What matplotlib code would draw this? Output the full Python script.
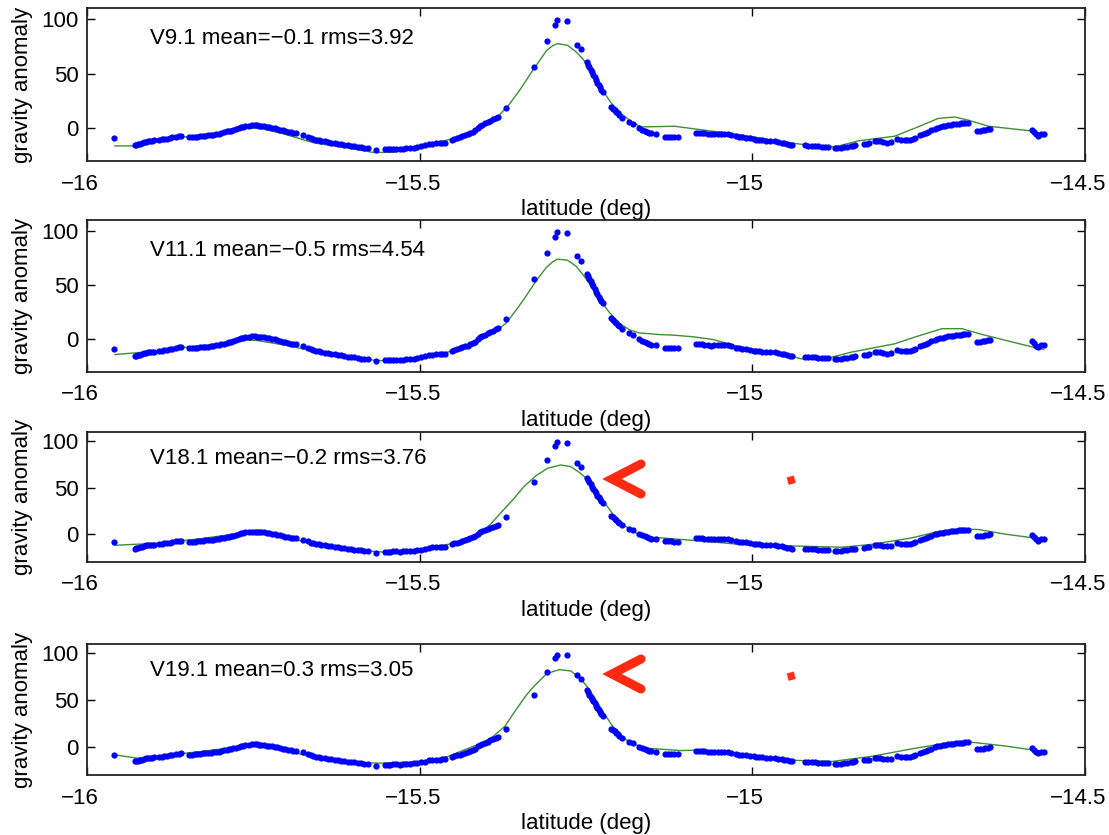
import matplotlib
matplotlib.use("Agg")
import matplotlib.pyplot as plt
from matplotlib.lines import Line2D
from matplotlib.ticker import FuncFormatter
from matplotlib.transforms import ScaledTranslation

plt.rcParams.update({"font.family": ["Liberation Sans", "DejaVu Sans"],
                     "font.size": 16, "axes.linewidth": 1.3})

# ship gravity profile (same track in every panel)
dot_lat = [-15.960,
           -15.928, -15.926, -15.923, -15.921, -15.918, -15.915, -15.912, -15.909,
           -15.906, -15.903, -15.900, -15.892, -15.888, -15.884, -15.880, -15.876,
           -15.872, -15.866, -15.862, -15.858, -15.846, -15.842, -15.838, -15.834,
           -15.830, -15.826, -15.822, -15.818, -15.814, -15.810, -15.806, -15.802,
           -15.798, -15.794, -15.790, -15.787, -15.784, -15.780, -15.776, -15.772,
           -15.768, -15.765, -15.762, -15.757, -15.752, -15.748, -15.744, -15.741,
           -15.738, -15.734, -15.730, -15.726, -15.722, -15.718, -15.714, -15.710,
           -15.706, -15.702, -15.698, -15.694, -15.690, -15.686, -15.676, -15.668,
           -15.664, -15.660, -15.656, -15.652, -15.648, -15.643, -15.638, -15.633,
           -15.628, -15.623, -15.618, -15.613, -15.608, -15.603, -15.598, -15.593,
           -15.588, -15.583, -15.578, -15.566, -15.552, -15.548, -15.544, -15.540,
           -15.535, -15.530, -15.525, -15.520, -15.515, -15.509, -15.504, -15.498,
           -15.492, -15.486, -15.482, -15.476, -15.470, -15.466, -15.462, -15.452,
           -15.448, -15.444, -15.440, -15.436, -15.432, -15.428, -15.424, -15.420,
           -15.417, -15.413, -15.410, -15.406, -15.402, -15.398, -15.394, -15.390,
           -15.386, -15.383, -15.370,
           -15.328, -15.309, -15.296, -15.293, -15.278, -15.263, -15.258, -15.249,
           -15.247, -15.245, -15.243, -15.241, -15.239, -15.237, -15.235, -15.233,
           -15.231, -15.229, -15.227, -15.225, -15.212, -15.210, -15.207, -15.205,
           -15.202, -15.200, -15.196, -15.186, -15.180, -15.170, -15.166, -15.162,
           -15.159, -15.156, -15.152, -15.145, -15.132, -15.127, -15.122, -15.117,
           -15.112, -15.084, -15.080, -15.076, -15.072, -15.067, -15.062, -15.057,
           -15.052, -15.047, -15.042, -15.037, -15.032, -15.025, -15.020, -15.015,
           -15.010, -15.004, -14.998, -14.994, -14.990, -14.985, -14.980, -14.973,
           -14.966, -14.961, -14.956, -14.952, -14.948, -14.944, -14.941,
           -14.921, -14.916, -14.911, -14.906, -14.901, -14.896, -14.891, -14.886,
           -14.876, -14.872, -14.867, -14.862, -14.857, -14.852, -14.849, -14.846,
           -14.832, -14.828, -14.824, -14.816, -14.812, -14.808, -14.803, -14.798,
           -14.792, -14.783, -14.776, -14.771, -14.768, -14.763, -14.759, -14.756,
           -14.748, -14.743, -14.739, -14.736, -14.731, -14.726, -14.722, -14.718,
           -14.714, -14.710, -14.706, -14.702, -14.698, -14.694, -14.690, -14.686,
           -14.683, -14.680, -14.676, -14.662, -14.658, -14.654, -14.650, -14.646,
           -14.643, -14.580, -14.576, -14.574, -14.570, -14.566, -14.562]
dot_val = [-8.9,
           -15.5, -15.2, -14.6, -14.2, -13.6, -12.8, -12.2, -11.8,
           -11.5, -11.3, -11.2, -10.6, -10.3, -10.0, -9.6, -9.0,
           -8.4, -7.6, -7.3, -7.0, -8.2, -8.2, -8.0, -7.7,
           -7.4, -7.0, -6.8, -6.6, -6.2, -5.8, -5.4, -5.0,
           -4.4, -3.8, -3.0, -2.6, -2.2, -1.6, -0.8, 0.0,
           1.0, 1.4, 1.8, 2.4, 2.8, 2.8, 2.6, 2.4,
           2.2, 1.8, 1.4, 1.0, 0.6, 0.0, -0.6, -1.2,
           -2.0, -2.6, -3.4, -3.8, -4.2, -4.6, -5.8, -7.8,
           -9.0, -9.8, -10.6, -11.1, -11.6, -12.1, -12.6, -13.2,
           -13.8, -14.3, -14.8, -15.3, -15.8, -16.2, -16.6, -17.1,
           -17.6, -17.9, -18.2, -20.0, -19.4, -19.2, -18.8, -18.6,
           -18.6, -18.8, -18.6, -18.4, -18.0, -17.7, -17.2, -16.6,
           -15.6, -14.4, -14.0, -13.6, -13.5, -13.4, -13.4, -10.4,
           -9.5, -9.0, -8.2, -7.4, -6.5, -5.6, -4.5, -3.4,
           -2.0, 0.6, 1.8, 3.0, 4.4, 5.8, 6.9, 8.0,
           9.2, 10.3, 18.9,
           56.0, 79.8, 94.8, 98.7, 97.8, 76.5, 72.5, 60.6,
           58.3, 56.0, 53.5, 51.0, 48.8, 46.5, 44.0, 41.5,
           39.5, 37.5, 35.3, 33.2, 19.6, 18.0, 16.5, 15.0,
           13.5, 12.0, 9.5, 5.6, 4.3, 0.0, -1.2, -2.4,
           -3.2, -4.0, -4.8, -5.5, -7.8, -7.9, -7.9, -8.0,
           -8.0, -4.4, -4.4, -4.6, -4.8, -5.2, -5.6, -5.5,
           -5.4, -5.1, -4.9, -5.4, -6.0, -7.5, -8.2, -8.4,
           -8.6, -9.4, -10.2, -10.6, -11.0, -11.2, -11.4, -11.6,
           -11.9, -12.5, -13.2, -13.8, -14.4, -15.0, -15.5,
           -15.8, -16.0, -16.2, -16.4, -16.7, -17.0, -17.1, -17.1,
           -17.8, -18.0, -17.8, -17.4, -16.9, -16.4, -16.0, -15.5,
           -14.4, -14.0, -13.6, -12.0, -11.8, -11.8, -12.4, -13.1,
           -12.6, -9.5, -10.8, -11.0, -11.0, -10.4, -9.6, -8.9,
           -6.4, -4.9, -4.2, -3.6, -1.8, -0.3, 0.6, 1.2,
           1.7, 2.2, 2.7, 3.2, 3.5, 3.8, 4.1, 4.4,
           4.6, 4.8, 5.0, -2.4, -2.2, -1.7, -1.2, -0.7,
           -0.3, -1.2, -3.5, -5.6, -7.0, -5.0, -4.9]

# model profiles
v9_lat = [-15.958, -15.928, -15.860, -15.800, -15.759, -15.740, -15.700, -15.659,
          -15.610, -15.569, -15.538, -15.498, -15.460, -15.423, -15.400, -15.383,
          -15.365, -15.348, -15.330, -15.309, -15.300, -15.293, -15.278, -15.265,
          -15.253, -15.240, -15.227, -15.212, -15.197, -15.182, -15.167, -15.140,
          -15.117, -15.072, -15.017, -14.960, -14.916, -14.876, -14.841, -14.786,
          -14.751, -14.721, -14.696, -14.675, -14.645, -14.580, -14.562]
v9_val = [-16.2, -16.2, -8.5, -4.0, 0.3, 0.0, -6.0, -13.4,
          -18.0, -22.2, -22.0, -16.5, -11.0, -4.9, 3.0, 10.3,
          22.0, 36.3, 53.0, 71.3, 75.5, 77.4, 75.9, 70.0,
          62.2, 50.0, 36.3, 23.0, 13.4, 6.0, 1.2, 1.5,
          1.8, -1.8, -6.0, -12.0, -15.5, -17.1, -11.6, -7.3,
          1.2, 8.9, 10.3, 7.3, 1.8, -2.5, -7.9]

v11_lat = [-15.958, -15.900, -15.860, -15.800, -15.759, -15.744, -15.700, -15.659,
           -15.610, -15.569, -15.529, -15.483, -15.440, -15.420, -15.400, -15.385,
           -15.370, -15.355, -15.340, -15.325, -15.310, -15.300, -15.293, -15.278,
           -15.265, -15.255, -15.242, -15.230, -15.215, -15.200, -15.185, -15.170,
           -15.140, -15.120, -15.090, -15.060, -15.017, -14.960, -14.926, -14.891,
           -14.851, -14.786, -14.751, -14.715, -14.685, -14.655, -14.615, -14.580,
           -14.562]
v11_val = [-13.9, -11.0, -7.7, -4.0, -0.6, -1.0, -5.5, -10.8,
           -16.0, -19.1, -20.7, -15.4, -9.0, -4.0, 2.0, 8.0,
           15.0, 27.0, 40.0, 54.0, 66.0, 71.5, 74.0, 73.0,
           67.5, 60.0, 49.0, 37.0, 25.0, 15.0, 9.0, 6.0,
           4.5, 4.0, 2.5, 0.0, -7.0, -13.0, -17.9, -17.9,
           -11.7, -4.0, 3.1, 9.9, 9.9, 4.6, -1.5, -6.8,
           -9.3]

v18_lat = [-15.958, -15.900, -15.830, -15.760, -15.740, -15.700, -15.650, -15.600,
           -15.540, -15.498, -15.450, -15.408, -15.393, -15.378, -15.360, -15.343,
           -15.325, -15.308, -15.288, -15.273, -15.260, -15.247, -15.235, -15.222,
           -15.210, -15.197, -15.185, -15.172, -15.160, -15.147, -15.082, -15.007,
           -14.956, -14.866, -14.820, -14.760, -14.720, -14.690, -14.660, -14.620,
           -14.562]
v18_val = [-12.0, -10.0, -5.0, 2.0, 1.5, -4.0, -12.0, -17.0,
           -20.0, -16.5, -10.0, 1.8, 11.0, 23.0, 37.0, 51.4,
           63.0, 70.9, 74.5, 72.7, 66.5, 58.5, 46.0, 33.7,
           22.0, 12.4, 5.5, 0.0, -2.0, -3.5, -7.1, -11.7,
           -12.4, -14.1, -11.0, -4.0, 3.0, 5.5, 5.0, 0.0,
           -5.5]

v19_lat = [-15.958, -15.925, -15.830, -15.750, -15.730, -15.654, -15.589, -15.559,
           -15.498, -15.458, -15.408, -15.390, -15.372, -15.355, -15.340, -15.328,
           -15.309, -15.290, -15.273, -15.258, -15.248, -15.238, -15.225, -15.213,
           -15.203, -15.193, -15.178, -15.158, -15.107, -15.077, -15.032, -14.986,
           -14.930, -14.880, -14.820, -14.760, -14.700, -14.670, -14.620, -14.562]
v19_val = [-8.5, -12.0, -5.0, 2.1, 1.0, -12.0, -16.7, -17.4,
           -15.6, -10.3, 3.9, 11.0, 22.0, 40.0, 55.0, 65.0,
           78.4, 82.6, 81.2, 73.1, 64.0, 53.5, 38.5, 25.2,
           16.0, 9.3, 3.0, -1.4, -3.9, -3.2, -6.7, -12.0,
           -14.5, -15.5, -10.0, -2.0, 5.0, 5.0, 1.0, -5.0]

titles = ["V9.1 mean=\u22120.1 rms=3.92", "V11.1 mean=\u22120.5 rms=4.54",
          "V18.1 mean=\u22120.2 rms=3.76", "V19.1 mean=0.3 rms=3.05"]
models = [(v9_lat, v9_val), (v11_lat, v11_val), (v18_lat, v18_val), (v19_lat, v19_val)]
xticks = [-16, -15.5, -15, -14.5]
yticks = [0, 50, 100]

W, H = 1109, 835
fig = plt.figure(figsize=(W / 100, H / 100), dpi=100)
# panel boxes in pixels: (top, bottom)
boxes = [(8, 161), (220, 372), (432, 562), (644, 775)]
fmt = FuncFormatter(lambda v, p: f"{v:g}".replace("-", "\u2212"))
shift = ScaledTranslation(-7 / 100, 0, fig.dpi_scale_trans)

for (top, bot), title, (mlat, mval) in zip(boxes, titles, models):
    ax = fig.add_axes([87 / W, 1 - bot / H, 998 / W, (bot - top) / H])
    ax.plot(mlat, mval, color="#3f8f34", lw=1.0, zorder=2)
    ax.plot(dot_lat, dot_val, "o", color="#0000ff", ms=4.5, mec="none", zorder=3)
    ax.set_xlim(-16, -14.5)
    ax.set_ylim(-30, 110)
    ax.set_xticks(xticks)
    ax.set_yticks(yticks)
    ax.xaxis.set_major_formatter(fmt)
    ax.yaxis.set_major_formatter(fmt)
    ax.tick_params(direction="in", length=6, width=1, top=True, right=True,
                   labelsize=16)
    ax.tick_params(axis="x", pad=9)
    ax.tick_params(axis="y", pad=6)
    for lab in ax.get_xticklabels():
        lab.set_transform(lab.get_transform() + shift)
    ax.set_xlabel("latitude (deg)", labelpad=3)
    ax.set_ylabel("gravity anomaly", labelpad=6)
    ax.text(-15.905, 82, title, va="center", ha="left", fontsize=16)
    for s in ax.spines.values():
        s.set_color("#222222")

# red annotations on the lower two panels (pixel positions)
red = "#ff2a10"
for cy, sy in [(479, 480), (674, 676)]:
    fig.add_artist(Line2D([641, 612, 641], [H - cy + 15, H - cy, H - cy - 15],
                          transform=None, color=red, lw=6.5,
                          solid_capstyle="round", solid_joinstyle="miter"))
    fig.text(791 / W, 1 - sy / H, "\u25a0", color=red, fontsize=7,
             family="DejaVu Sans", ha="center", va="center", rotation=15)

fig.savefig("out.png", dpi=100)
